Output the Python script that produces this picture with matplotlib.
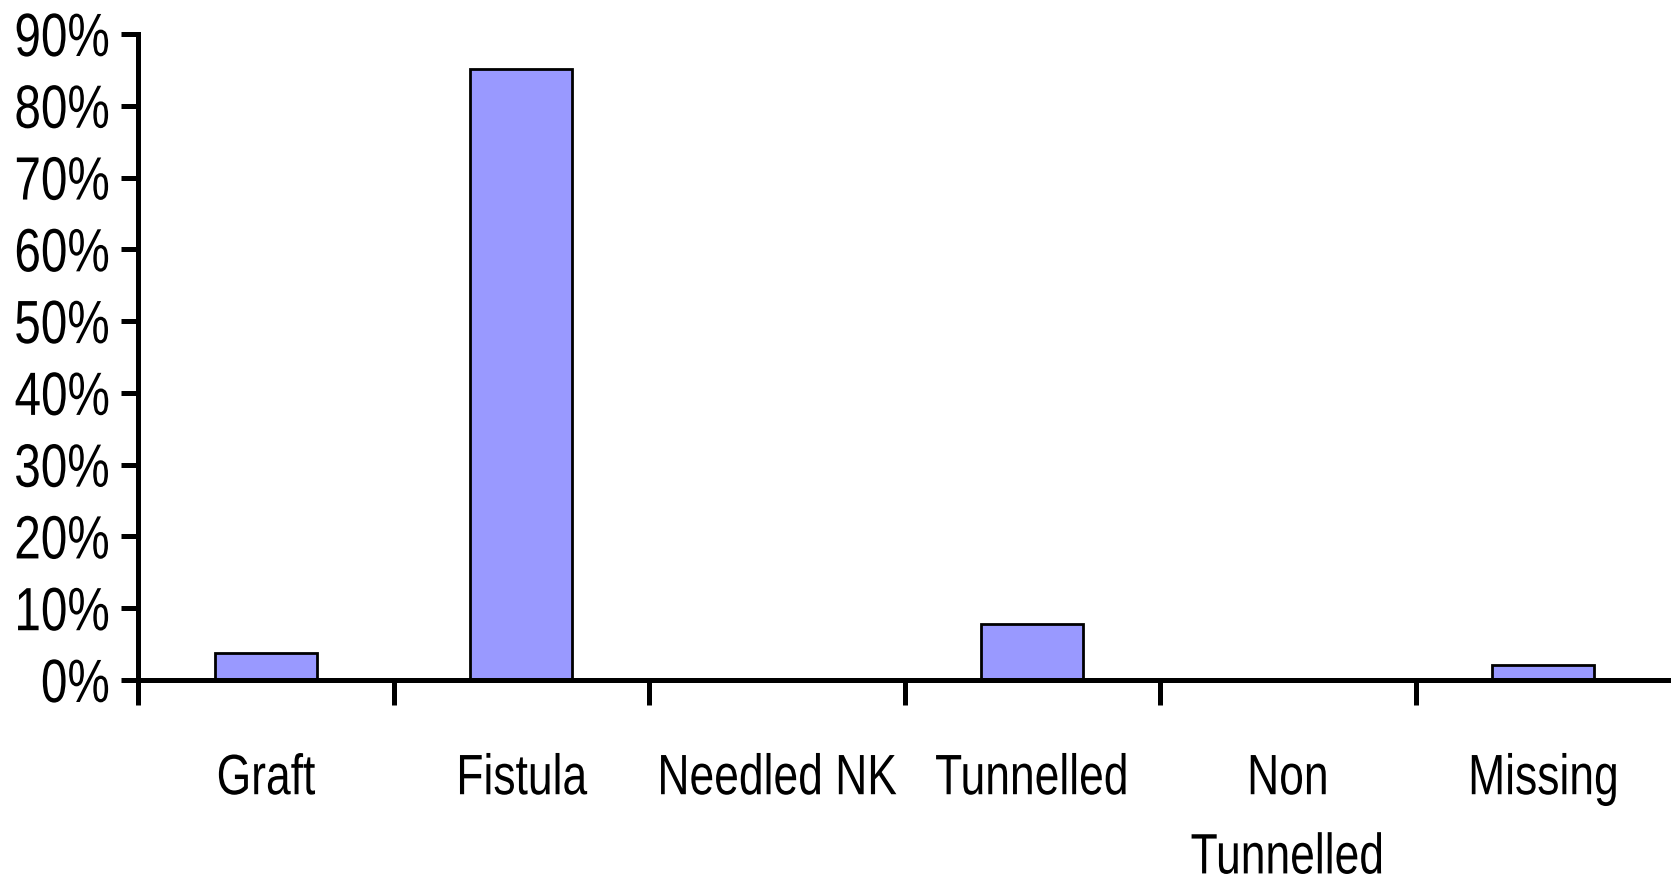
import matplotlib
matplotlib.use("Agg")
import matplotlib.pyplot as plt
from matplotlib.ticker import FixedLocator, FuncFormatter
from matplotlib.patheffects import AbstractPathEffect
from matplotlib.transforms import Affine2D

categories = ["Graft", "Fistula", "Needled NK", "Tunnelled", "Non\nTunnelled", "Missing"]
values = [0.037, 0.851, 0.0, 0.078, 0.0, 0.021]
yticks = [0.0, 0.1, 0.2, 0.3, 0.4, 0.5, 0.6, 0.7, 0.8, 0.9]

plt.rcParams['font.family'] = ['Liberation Sans', 'DejaVu Sans']


class Condense(AbstractPathEffect):
    """Squeeze text horizontally around an anchor (0 left, 0.5 centre, 1 right)."""
    def __init__(self, sx, anchor):
        super().__init__()
        self.sx = sx
        self.anchor = anchor

    def draw_path(self, renderer, gc, tpath, affine, rgbFace=None):
        ext = tpath.get_extents()
        a = ext.x0 + (ext.x1 - ext.x0) * self.anchor
        t = Affine2D().translate(-a, 0).scale(self.sx, 1).translate(a, 0) + affine
        renderer.draw_path(gc, tpath, t, rgbFace)


fig = plt.figure(figsize=(16.71, 8.75), dpi=100)
ax = fig.add_axes([138/1671, 1 - 680/875, 1 - 138/1671, (680 - 34)/875])

x = list(range(len(categories)))
ax.bar(x, values, width=0.4, color="#9999FF", edgecolor="black", linewidth=2.0, zorder=2)

ax.set_xlim(-0.5, len(categories) - 0.5)
ax.set_ylim(0, 0.9)

for s in ["top", "right"]:
    ax.spines[s].set_visible(False)
for s in ["left", "bottom"]:
    ax.spines[s].set_linewidth(3.6)
    ax.spines[s].set_zorder(3)

ax.set_yticks(yticks)
ax.yaxis.set_major_formatter(FuncFormatter(lambda v, p: f"{v*100:.0f}%"))
ax.tick_params(axis="y", length=12, width=3.6, pad=8, labelsize=44)

ax.set_xticks(x)
ax.set_xticklabels(categories, fontsize=41, linespacing=1.6, va="top")
ax.tick_params(axis="x", which="major", length=0, pad=52)
ax.xaxis.set_minor_locator(FixedLocator([i - 0.5 for i in range(len(categories))]))
ax.tick_params(axis="x", which="minor", length=18, width=3.6)

for lab in ax.get_yticklabels():
    lab.set_path_effects([Condense(0.78, 1.0)])
for lab in ax.get_xticklabels():
    lab.set_path_effects([Condense(0.78, 0.5)])

fig.savefig("out.png", dpi=100)
